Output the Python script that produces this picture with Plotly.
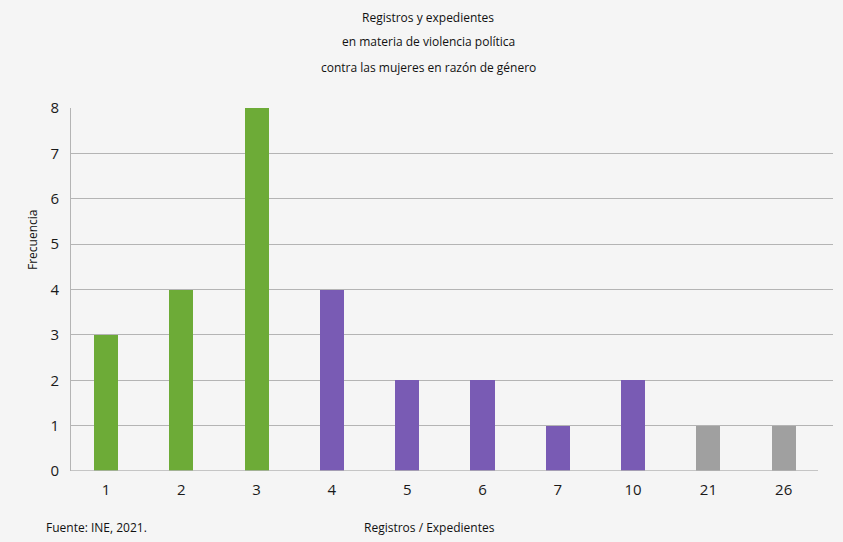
import plotly.graph_objects as go

# Registros / expedientes y su frecuencia
categorias = ["1", "2", "3", "4", "5", "6", "7", "10", "21", "26"]
frecuencia = [3, 4, 8, 4, 2, 2, 1, 2, 1, 1]
colores = ["#6dab37"] * 3 + ["#795bb4"] * 5 + ["#a0a0a0"] * 2

titulo = [
    "Registros y expedientes",
    "en materia de violencia política",
    "contra las mujeres en razón de género",
]

W, H = 843, 542
L, R, T, B = 71, 10, 108, 71
FONT = "Open Sans"
PW, PH = W - L - R, H - T - B


def px_x(px):
    # pixel column -> paper x (relative to the plot area)
    return (px - L) / PW


def px_y(py):
    # pixel row -> paper y (relative to the plot area)
    return (H - B - py) / PH


fig = go.Figure(
    go.Bar(
        x=categorias,
        y=frecuencia,
        marker=dict(color=colores, line=dict(width=0)),
        width=0.32,
        hoverinfo="x+y",
    )
)

annotations = []
for i, linea in enumerate(titulo):
    annotations.append(dict(
        text=linea, x=px_x(428), y=px_y(17 + 25 * i),
        xref="paper", yref="paper", showarrow=False,
        xanchor="center", yanchor="middle",
        font=dict(family=FONT, size=12, color="#111111"),
    ))

fig.update_layout(
    width=W, height=H,
    margin=dict(l=L, r=R, t=T, b=B, pad=0),
    paper_bgcolor="#f5f5f5",
    plot_bgcolor="#f5f5f5",
    showlegend=False,
    bargap=0,
    xaxis=dict(
        type="category",
        range=[-0.465, 9.655],
        showgrid=False,
        showline=False,
        zeroline=False,
        ticks="",
        tickfont=dict(family=FONT, size=15, color="#1a1a1a"),
        ticklabelstandoff=8,
    ),
    yaxis=dict(
        range=[0, 8],
        dtick=1,
        showgrid=True,
        gridcolor="#b4b4b4",
        gridwidth=1,
        showline=True,
        linecolor="#b4b4b4",
        linewidth=1,
        zeroline=False,
        ticks="",
        tickfont=dict(family=FONT, size=15, color="#1a1a1a"),
        ticklabelstandoff=8,
    ),
    shapes=[dict(
        type="line", xref="paper", yref="y",
        x0=0, x1=px_x(818), y0=0, y1=0,
        line=dict(color="#b4b4b4", width=1.5),
    )],
)

# y axis title and the footer texts
annotations += [
    dict(text="Frecuencia", x=px_x(32), y=px_y(240), xref="paper", yref="paper",
         showarrow=False, textangle=-90, xanchor="center", yanchor="middle",
         font=dict(family=FONT, size=12, color="#111111")),
    dict(text="Fuente: INE, 2021.", x=px_x(44), y=px_y(527), xref="paper", yref="paper",
         showarrow=False, xanchor="left", yanchor="middle",
         font=dict(family=FONT, size=12, color="#111111")),
    dict(text="Registros / Expedientes", x=px_x(429), y=px_y(527), xref="paper", yref="paper",
         showarrow=False, xanchor="center", yanchor="middle",
         font=dict(family=FONT, size=12, color="#111111")),
]
fig.update_layout(annotations=annotations)

fig.write_html("out.html")
